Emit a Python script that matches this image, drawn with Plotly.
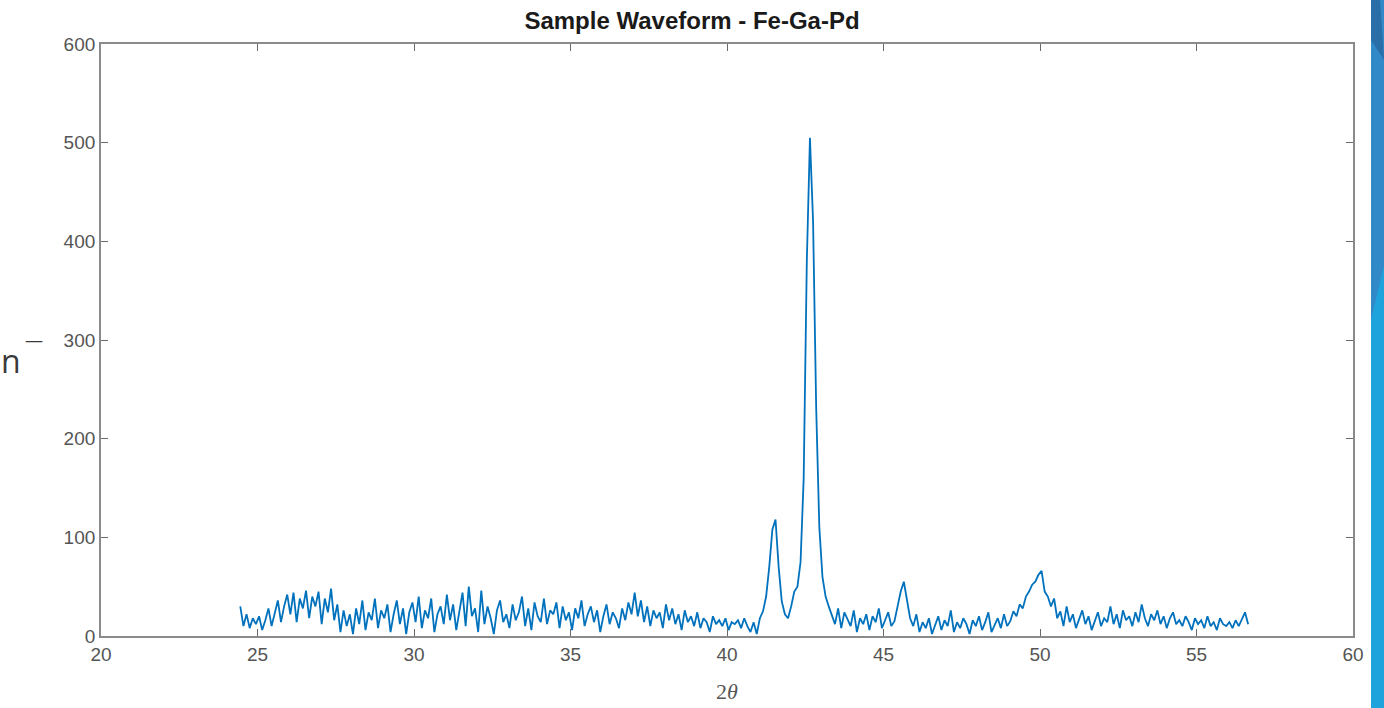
import numpy as np
import plotly.graph_objects as go

# 2-theta scan grid (start, step) and intensities
two_theta_start = 24.45
two_theta_step = 0.1

i24 = [30, 10, 22, 8, 18, 12]
i25 = [20, 6, 16, 28, 10, 22, 36, 14, 30, 42]
i26 = [22, 44, 14, 38, 28, 46, 18, 40, 30, 45]
i27 = [12, 38, 24, 48, 16, 32, 4, 26, 10, 22]
i28 = [2, 28, 12, 36, 6, 24, 16, 38, 8, 26]
i29 = [18, 32, 4, 22, 36, 12, 28, 2, 24, 34]
i30 = [14, 40, 8, 26, 18, 38, 4, 22, 30, 12]
i31 = [42, 16, 32, 6, 24, 44, 10, 50, 20, 28]
i32 = [4, 46, 12, 30, 18, 2, 26, 36, 14, 22]
i33 = [8, 32, 16, 24, 40, 10, 28, 6, 34, 20]
i34 = [14, 38, 12, 26, 22, 34, 8, 30, 16, 24]
i35 = [6, 28, 18, 36, 10, 22, 30, 14, 26, 4]
i36 = [20, 32, 12, 24, 18, 8, 28, 16, 34, 22]
i37 = [44, 20, 36, 14, 30, 10, 26, 18, 24, 8]
i38 = [32, 16, 28, 12, 22, 6, 26, 14, 20, 10]
i39 = [24, 8, 18, 14, 4, 20, 12, 16, 10, 18]
i40 = [6, 14, 12, 16, 8, 18, 10, 4, 14, 2]
i41 = [18, 25, 40, 70, 108, 118, 70, 35, 22, 18]
i42 = [30, 45, 50, 75, 160, 380, 505, 420, 230, 110]
i43 = [60, 40, 30, 22, 12, 28, 8, 24, 16, 10]
i44 = [26, 4, 18, 12, 22, 6, 20, 14, 28, 8]
i45 = [16, 24, 10, 15, 30, 45, 55, 35, 18, 10]
i46 = [22, 4, 14, 8, 18, 2, 12, 20, 6, 16]
i47 = [10, 26, 4, 14, 8, 18, 12, 2, 16, 10]
i48 = [20, 6, 14, 24, 4, 12, 18, 8, 22, 10]
i49 = [15, 25, 20, 32, 28, 40, 45, 52, 55, 62]
i50 = [66, 45, 40, 30, 38, 18, 25, 10, 30, 14]
i51 = [22, 8, 18, 26, 12, 20, 6, 16, 24, 10]
i52 = [18, 14, 30, 12, 22, 8, 26, 16, 20, 10]
i53 = [24, 14, 32, 18, 10, 22, 16, 26, 12, 20]
i54 = [8, 18, 24, 12, 16, 10, 20, 14, 6, 18]
i55 = [12, 16, 8, 20, 10, 14, 6, 18, 12, 10]
i56 = [14, 8, 16, 10, 18, 24, 12]

intensity = (i24 + i25 + i26 + i27 + i28 + i29 + i30 + i31 + i32 + i33 + i34 + i35
             + i36 + i37 + i38 + i39 + i40 + i41 + i42 + i43 + i44 + i45 + i46
             + i47 + i48 + i49 + i50 + i51 + i52 + i53 + i54 + i55 + i56)
two_theta = np.round(two_theta_start + two_theta_step * np.arange(len(intensity)), 3)

x_ticks = [20, 25, 30, 35, 40, 45, 50, 55, 60]
y_ticks = [0, 100, 200, 300, 400, 500, 600]

W, H = 1384, 708
L, R, T, B = 101, 31, 44, 72
pw = W - L - R
ph = H - T - B


def px(xp):
    return (xp - L) / pw


def py(yp):
    return (H - B - yp) / ph


fig = go.Figure()
fig.add_trace(go.Scatter(x=two_theta, y=intensity, mode="lines",
                         line=dict(color="#0072BD", width=1.8), showlegend=False))

axis_common = dict(showgrid=False, zeroline=False, showline=True, linecolor="#8a8a8a",
                   linewidth=1.8, mirror="ticks", ticks="inside", ticklen=7,
                   tickcolor="#6a6a6a", tickwidth=1.3, automargin=False,
                   tickfont=dict(family="Liberation Sans, Arial, sans-serif", size=19, color="#555555"))

fig.update_xaxes(range=[20, 60], tickvals=x_ticks, **axis_common,
                 title=dict(text="2<i>θ</i>", font=dict(family="Liberation Serif, serif", size=22, color="#555555"),
                            standoff=20))
fig.update_yaxes(range=[0, 600], tickvals=y_ticks, **axis_common)

fig.update_layout(
    width=W, height=H,
    margin=dict(l=L, r=R, t=T, b=B, autoexpand=False),
    paper_bgcolor="white", plot_bgcolor="white",
    title=dict(text="<b>Sample Waveform - Fe-Ga-Pd</b>", x=px(727), xanchor="center",
               y=1 - 21 / H, yanchor="middle",
               font=dict(family="Liberation Sans, Arial, sans-serif", size=24, color="#1a1a1a")),
)

# slide decorations: right-edge blue stripe
fig.add_shape(type="rect", xref="paper", yref="paper", x0=px(1371), x1=px(1390),
              y0=py(708), y1=py(200), fillcolor="#1fa3dc", line=dict(width=0), layer="above")
fig.add_shape(type="path", xref="paper", yref="paper",
              path=f"M {px(1371)},{py(0)} L {px(1390)},{py(0)} L {px(1390)},{py(240)} L {px(1371)},{py(320)} Z",
              fillcolor="#3189c8", line=dict(width=0), layer="above")
fig.add_shape(type="path", xref="paper", yref="paper",
              path=f"M {px(1371)},{py(0)} L {px(1380)},{py(0)} L {px(1384)},{py(60)} L {px(1371)},{py(40)} Z",
              fillcolor="#2a6ea8", line=dict(width=0), layer="above")

# slide text at left edge
fig.add_annotation(xref="paper", yref="paper", x=px(0), y=py(360), xanchor="left", yanchor="middle",
                   text="n", showarrow=False, borderpad=0,
                   font=dict(family="Open Sans, sans-serif", size=32, color="#3a3a3a"))
fig.add_annotation(xref="paper", yref="paper", x=px(34), y=py(340), xanchor="center", yanchor="middle",
                   text="—", showarrow=False, borderpad=0,
                   font=dict(family="Open Sans, sans-serif", size=18, color="#3a3a3a"))

fig.write_html("out.html")
